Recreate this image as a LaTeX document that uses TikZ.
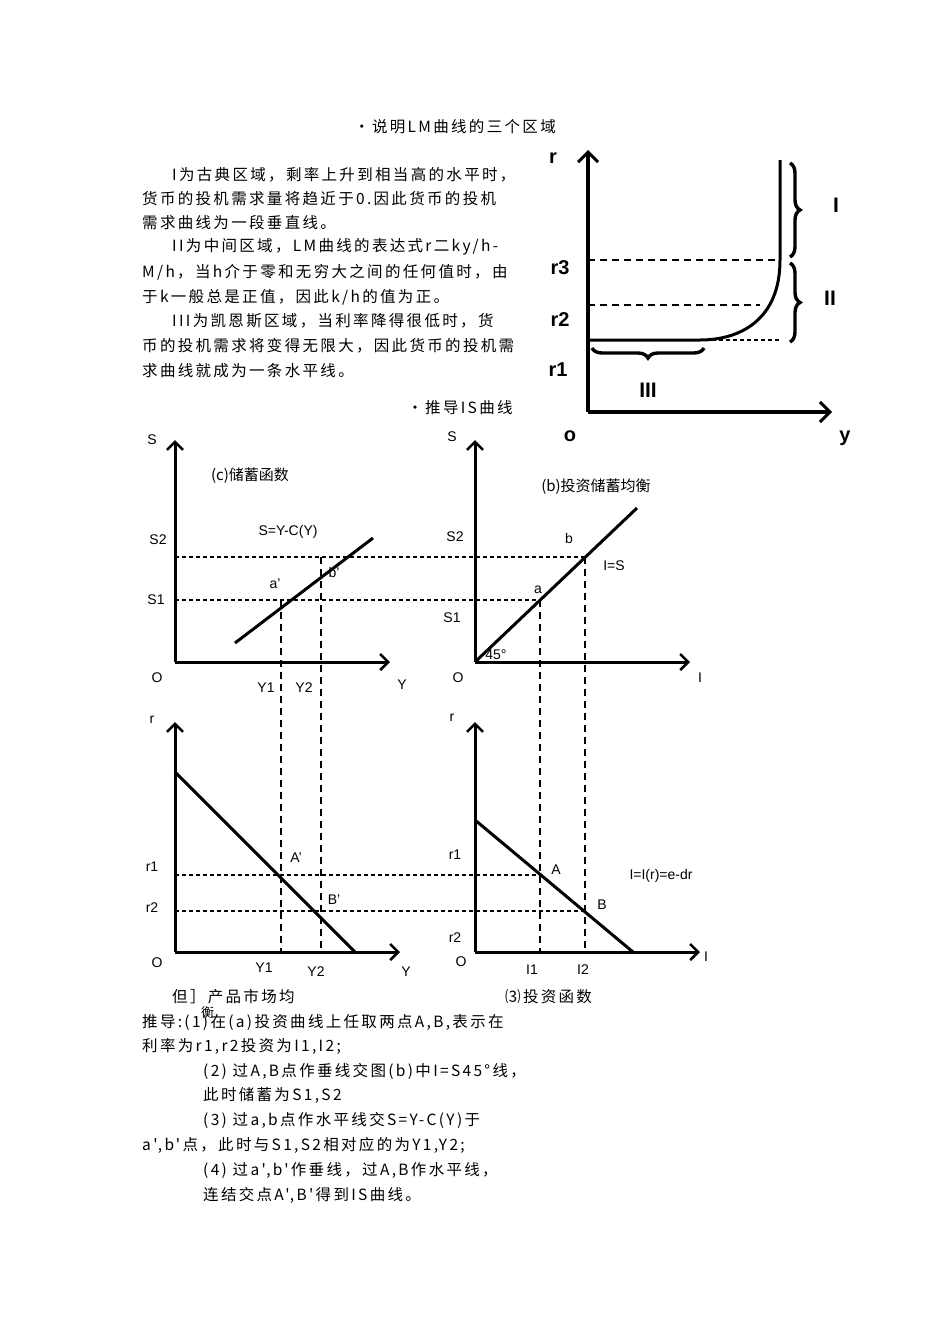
\documentclass[tikz,border=0pt]{standalone}
\usepackage{fontspec}
\setmainfont{Liberation Sans}
\newfontfamily\cjk[LetterSpace=15]{Noto Sans CJK SC}
\newfontfamily\cjkn{Noto Sans CJK SC}
\usetikzlibrary{arrows.meta,decorations.pathreplacing}
\begin{document}
\begin{tikzpicture}[x=1pt,y=-1pt,
 ax/.style={line width=3.6pt,-{Straight Barb[length=10pt,width=20pt,line width=3pt]}},
 axs/.style={line width=3pt,-{Straight Barb[length=8pt,width=16pt,line width=2.6pt]}},
 dsh/.style={line width=2.6pt,dash pattern=on 7pt off 5pt},
 dot/.style={line width=2.4pt,dash pattern=on 3.5pt off 3.5pt},
 txt/.style={anchor=west,font=\cjk\fontsize{15.5}{17}\selectfont,inner sep=0},
 lab/.style={font=\fontsize{14}{16}\selectfont,inner sep=0},
 blab/.style={font=\bfseries\fontsize{20}{22}\selectfont,inner sep=0},
 rom/.style={font=\fontsize{21}{23}\selectfont\bfseries\rmfamily,inner sep=0},
 curve/.style={line width=3pt}]
\useasboundingbox[fill=white] (0,0) rectangle (950,1344);
% text top
\node[txt,anchor=center] (t0) at (455,127) {•说明LM曲线的三个区域};
\node[txt] (t1) at (172,175) {I为古典区域，剩率上升到相当高的水平时，};
\node[txt] (t2) at (142,199) {货币的投机需求量将趋近于0.因此货币的投机};
\node[txt] (t3) at (142,223) {需求曲线为一段垂直线。};
\node[txt] (t4) at (172,247) {II为中间区域，LM曲线的表达式r二ky/h-};
\node[txt] (t5) at (142,272) {M/h，当h介于零和无穷大之间的任何值时，由};
\node[txt] (t6) at (142,297) {于k一般总是正值，因此k/h的值为正。};
\node[txt] (t7) at (172,321) {III为凯恩斯区域，当利率降得很低时，货};
\node[txt] (t8) at (142,346) {币的投机需求将变得无限大，因此货币的投机需};
\node[txt] (t9) at (142,371) {求曲线就成为一条水平线。};
\node[txt,anchor=center] (t10) at (460,408) {•推导IS曲线};
% LM chart
\draw[ax] (588,412) -- (588,150);
\draw[ax] (588,412) -- (832,412);
\draw[curve] (780,160) -- (780,260) .. controls (780,320) and (740,340) .. (700,340) -- (588,340);
\draw[dsh] (588,260) -- (780,260);
\draw[dsh] (588,305) -- (760,305);
\draw[dot] (712,340) -- (780,340);
\draw[line width=3.4pt,decorate,decoration={brace,amplitude=10pt}] (790,163) -- (790,257);
\draw[line width=3.4pt,decorate,decoration={brace,amplitude=10pt}] (790,263) -- (790,342);
\draw[line width=3.4pt,decorate,decoration={brace,amplitude=10pt,mirror}] (592,348) -- (704,348);
\node[blab] (lr) at (553,158) {r};
\node[blab] (lr3) at (560,268) {r3};
\node[blab] (lr2) at (560,320) {r2};
\node[blab] (lr1) at (558,370) {r1};
\node[blab] (lo) at (570,436) {o};
\node[blab] (ly) at (845,438) {y};
\node[rom] (lI) at (836,205) {I};
\node[rom] (lII) at (830,298) {II};
\node[rom] (lIII) at (648,390) {III};
% (c)
\draw[axs] (175,662) -- (175,440);
\draw[axs] (175,662) -- (390,662);
\draw[curve] (235,643) -- (373,538);
\node[lab] (cS) at (152,440) {S};
\node[lab] (cS2) at (158,540) {S2};
\node[lab] (cS1) at (156,600) {S1};
\node[lab] (cO) at (157,678) {O};
\node[lab] (cY1) at (266,688) {Y1};
\node[lab] (cY2) at (304,688) {Y2};
\node[lab] (cY) at (402,685) {Y};
\node[lab,font=\cjkn\fontsize{15}{17}\selectfont] (ct) at (250,476) {(c)储蓄函数};
\node[lab] (cf) at (288,532) {S=Y-C(Y)};
\node[lab] (ca) at (275,584) {a'};
\node[lab] (cb) at (334,572) {b'};
% (b)
\draw[axs] (475,662) -- (475,440);
\draw[axs] (475,662) -- (690,662);
\draw[curve] (475,662) -- (637,508);
\node[lab] (bS) at (452,437) {S};
\node[lab] (bS2) at (455,537) {S2};
\node[lab] (bS1) at (452,618) {S1};
\node[lab] (bO) at (458,678) {O};
\node[lab] (bI) at (700,678) {I};
\node[lab,font=\cjkn\fontsize{15}{17}\selectfont] (bt) at (596,487) {(b)投资储蓄均衡};
\node[lab] (ba) at (538,590) {a};
\node[lab] (bb) at (569,538) {b};
\node[lab] (bf) at (614,566) {I=S};
\node[lab] (b45) at (496,655) {45°};
% lower left
\draw[axs] (175,952) -- (175,722);
\draw[axs] (175,952) -- (400,952);
\draw[curve] (175,772) -- (355,952);
\node[lab] (dr) at (152,720) {r};
\node[lab] (dr1) at (152,867) {r1};
\node[lab] (dr2) at (152,908) {r2};
\node[lab] (dO) at (157,963) {O};
\node[lab] (dY1) at (264,968) {Y1};
\node[lab] (dY2) at (316,972) {Y2};
\node[lab] (dY) at (406,972) {Y};
\node[lab] (dA) at (296,858) {A'};
\node[lab] (dB) at (334,900) {B'};
% lower right
\draw[axs] (475,952) -- (475,722);
\draw[axs] (475,952) -- (700,952);
\draw[curve] (475,820) -- (633,952);
\node[lab] (er) at (452,718) {r};
\node[lab] (er1) at (455,855) {r1};
\node[lab] (er2) at (455,938) {r2};
\node[lab] (eO) at (461,962) {O};
\node[lab] (eI1) at (532,970) {I1};
\node[lab] (eI2) at (583,970) {I2};
\node[lab] (eI) at (706,957) {I};
\node[lab] (eA) at (556,870) {A};
\node[lab] (eB) at (602,905) {B};
\node[lab] (ef) at (661,876) {I=I(r)=e-dr};
% guides
\draw[dot] (175,557) -- (585,557);
\draw[dot] (175,600) -- (540,600);
\draw[dot] (175,875) -- (540,875);
\draw[dot] (175,911) -- (585,911);
\draw[dsh] (281,600) -- (281,952);
\draw[dsh] (321,557) -- (321,952);
\draw[dsh] (540,600) -- (540,952);
\draw[dsh] (585,557) -- (585,952);
% captions
\node[txt] (c1) at (172,997) {但］产品市场均};
\node[txt,font=\cjkn\fontsize{13}{14}\selectfont] (c1b) at (201,1013) {衡};
\node[txt] (c2) at (505,997) {⑶投资函数};
\node[txt] (u1) at (142,1022) {推导:(1)在(a)投资曲线上任取两点A,B,表示在};
\node[txt] (u2) at (142,1046) {利率为r1,r2投资为I1,I2;};
\node[txt] (u3) at (203,1071) {(2) 过A,B点作垂线交图(b)中I=S45°线，};
\node[txt] (u4) at (203,1095) {此时储蓄为S1,S2};
\node[txt] (u5) at (203,1120) {(3) 过a,b点作水平线交S=Y-C(Y)于};
\node[txt] (u6) at (142,1145) {a',b'点，此时与S1,S2相对应的为Y1,Y2;};
\node[txt] (u7) at (203,1170) {(4) 过a',b'作垂线，过A,B作水平线，};
\node[txt] (u8) at (203,1195) {连结交点A',B'得到IS曲线。};
\end{tikzpicture}
\end{document}
